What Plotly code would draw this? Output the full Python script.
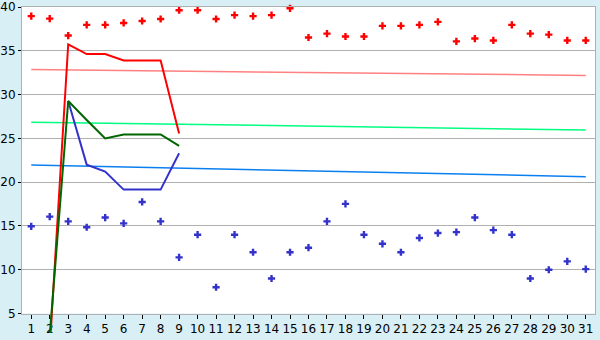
import plotly.graph_objects as go

days = list(range(1, 32))
tick_labels = [str(d) for d in days]

red_points = [38.96, 38.67, 36.74, 37.96, 37.96, 38.18, 38.40, 38.63, 39.63, 39.63,
              38.63, 39.07, 38.96, 39.07, 39.85, 36.52, 36.96, 36.63, 36.63, 37.85,
              37.85, 37.96, 38.30, 36.07, 36.40, 36.18, 37.96, 36.96, 36.85, 36.18, 36.18]
blue_points = [14.96, 16.07, 15.52, 14.85, 15.96, 15.30, 17.74, 15.52, 11.41, 14.00,
               8.00, 14.00, 12.00, 9.00, 12.00, 12.52, 15.52, 17.52, 14.00, 12.96,
               12.00, 13.63, 14.19, 14.30, 15.96, 14.52, 14.00, 9.00, 10.00, 10.96, 10.07]

red_line_days = [2, 3, 4, 5, 6, 7, 8, 9]
red_line = [1.0, 35.74, 34.63, 34.63, 33.89, 33.89, 33.89, 25.56]
green_line_days = [2, 3, 4, 5, 6, 7, 8, 9]
green_line = [2.5, 29.26, 27.1, 25.0, 25.44, 25.44, 25.44, 24.15]
blue_line_days = [3, 4, 5, 6, 7, 8, 9]
blue_line = [29.26, 22.0, 21.2, 19.15, 19.15, 19.15, 23.3]

trend_days = [1, 31]
red_trend = [32.85, 32.19]
green_trend = [26.85, 25.96]
blue_trend = [21.96, 20.63]

RED = "#ff0000"
GREEN = "#006600"
BLUE = "#3333cc"
GRID = "#b0b0b0"
BG = "#d9eff6"

fig = go.Figure()

for xs, ys, col in [(trend_days, red_trend, "#ff8080"),
                    (trend_days, green_trend, "#00ff80"),
                    (trend_days, blue_trend, "#0a7ff0")]:
    fig.add_trace(go.Scatter(x=xs, y=ys, mode="lines", line=dict(color=col, width=1.5),
                             showlegend=False, hoverinfo="skip"))

fig.add_trace(go.Scatter(x=days, y=red_points, mode="markers",
                         marker=dict(symbol="cross", size=6, color=RED),
                         showlegend=False, cliponaxis=False))
fig.add_trace(go.Scatter(x=days, y=blue_points, mode="markers",
                         marker=dict(symbol="cross", size=6, color=BLUE),
                         showlegend=False, cliponaxis=False))

for xs, ys, col in [(red_line_days, red_line, RED),
                    (blue_line_days, blue_line, BLUE),
                    (green_line_days, green_line, GREEN)]:
    fig.add_trace(go.Scatter(x=xs, y=ys, mode="lines", line=dict(color=col, width=2),
                             showlegend=False))

# continuation of the lines below the axis (drawn beyond the plot area in the original)
for xs, ys, col in [(red_line_days, red_line, RED),
                    (green_line_days, green_line, GREEN)]:
    fig.add_trace(go.Scatter(x=xs, y=ys, mode="lines", line=dict(color=col, width=2),
                             showlegend=False, xaxis="x2", yaxis="y2"))

H_PLOT = 335.0
fig.update_layout(
    width=600, height=340,
    margin=dict(l=20, r=5, t=5, b=0),
    paper_bgcolor=BG,
    plot_bgcolor="rgba(0,0,0,0)",
    font=dict(family="DejaVu Sans", size=12, color="#000000"),
    showlegend=False,
    xaxis=dict(range=[0.5, 31.5], tickvals=days, ticktext=tick_labels,
               showgrid=False, zeroline=False, ticks="outside", ticklen=4,
               tickcolor="#000000", showline=True, linecolor=GRID, mirror=True,
               linewidth=1, domain=[0, 1], anchor="y", ticklabeloverflow="allow"),
    yaxis=dict(range=[5, 40], dtick=5, tick0=5, showgrid=True, gridcolor=GRID,
               gridwidth=1, zeroline=False, ticks="outside", ticklen=3,
               tickcolor="#000000", showline=True, linecolor=GRID, mirror=True,
               linewidth=1, domain=[20 / H_PLOT, 1], anchor="x",
               ticklabeloverflow="allow"),
    xaxis2=dict(range=[0.5, 31.5], visible=False, domain=[0, 1], anchor="y2"),
    yaxis2=dict(range=[5 - 20 / 9.0, 5], visible=False, domain=[0, 20 / H_PLOT],
                anchor="x2"),
    shapes=[dict(type="rect", xref="x domain", yref="y domain", x0=0, x1=1, y0=0, y1=1,
                 fillcolor="#ffffff", line=dict(width=0), layer="below")],
)

fig.write_html("out.html")
